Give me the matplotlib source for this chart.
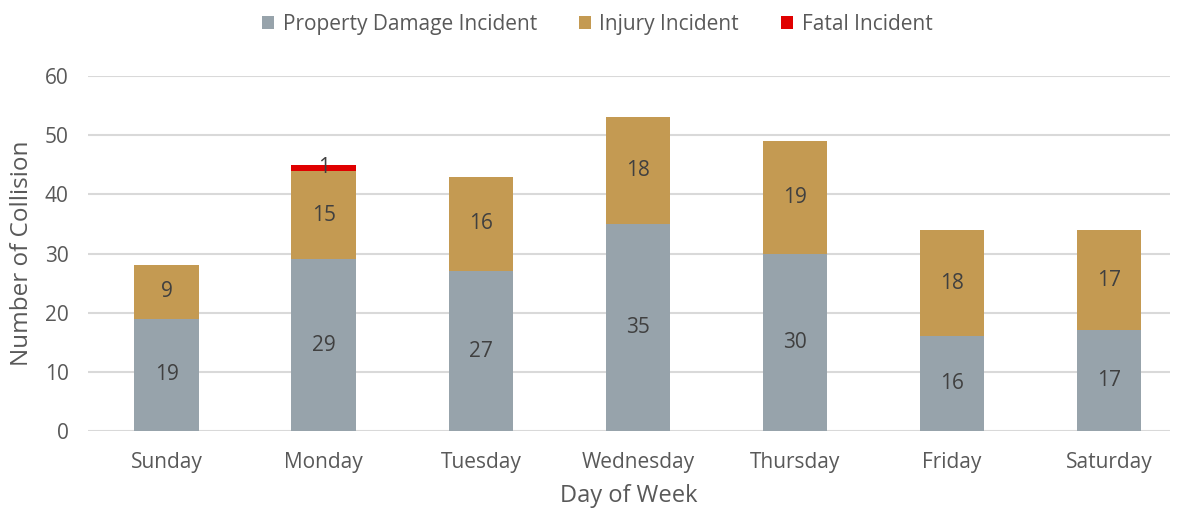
import matplotlib
matplotlib.use("Agg")
import matplotlib.pyplot as plt
import numpy as np

days = ["Sunday", "Monday", "Tuesday", "Wednesday", "Thursday", "Friday", "Saturday"]
property_damage = [19, 29, 27, 35, 30, 16, 17]
injury = [9, 15, 16, 18, 19, 18, 17]
fatal = [0, 1, 0, 0, 0, 0, 0]

plt.rcParams["font.family"] = ["Open Sans", "DejaVu Sans"]
TXT = "#595959"

fig = plt.figure(figsize=(11.8, 5.13), dpi=100)
ax = fig.add_axes([0.0746, 0.1598, 0.917, 0.692])

x = np.arange(len(days))
w = 0.41
pd_col, inj_col, fat_col = "#97A3AB", "#C49A52", "#E00000"

b1 = ax.bar(x, property_damage, w, color=pd_col, label="Property Damage Incident", zorder=3)
b2 = ax.bar(x, injury, w, bottom=property_damage, color=inj_col, label="Injury Incident", zorder=3)
base2 = [a + b for a, b in zip(property_damage, injury)]
b3 = ax.bar(x, fatal, w, bottom=base2, color=fat_col, label="Fatal Incident", zorder=3)

for i in x:
    ax.text(i, property_damage[i] / 2, str(property_damage[i]), ha="center", va="center",
            fontsize=15, color="#404040", zorder=4)
    ax.text(i, property_damage[i] + injury[i] / 2, str(injury[i]), ha="center", va="center",
            fontsize=15, color="#404040", zorder=4)
    if fatal[i]:
        ax.text(i, base2[i] + fatal[i] / 2, str(fatal[i]), ha="center", va="center",
                fontsize=15, color="#404040", zorder=4)

ax.set_xlim(-0.5, 6.387)
ax.set_ylim(0, 60)
ax.set_yticks(range(0, 61, 10))
ax.set_xticks(x)
ax.set_xticklabels(days)
ax.grid(axis="y", color="#D9D9D9", linewidth=1.5, zorder=0)
for s in ax.spines.values():
    s.set_visible(False)
ax.tick_params(length=0, labelsize=15, colors=TXT)
ax.tick_params(axis="y", pad=14)
ax.tick_params(axis="x", pad=15)

ax.set_xlabel("Day of Week", fontsize=17, color=TXT, labelpad=8)
ax.set_ylabel("Number of Collision", fontsize=17.5, color=TXT, labelpad=8)

fig.legend(handles=[b1, b2, b3], loc="upper center", bbox_to_anchor=(0.506, 1.01), ncol=3,
           frameon=False, fontsize=15, labelcolor=TXT, handlelength=0.6, handleheight=0.6,
           handletextpad=0.4, columnspacing=2.0)

fig.savefig("out.png")
